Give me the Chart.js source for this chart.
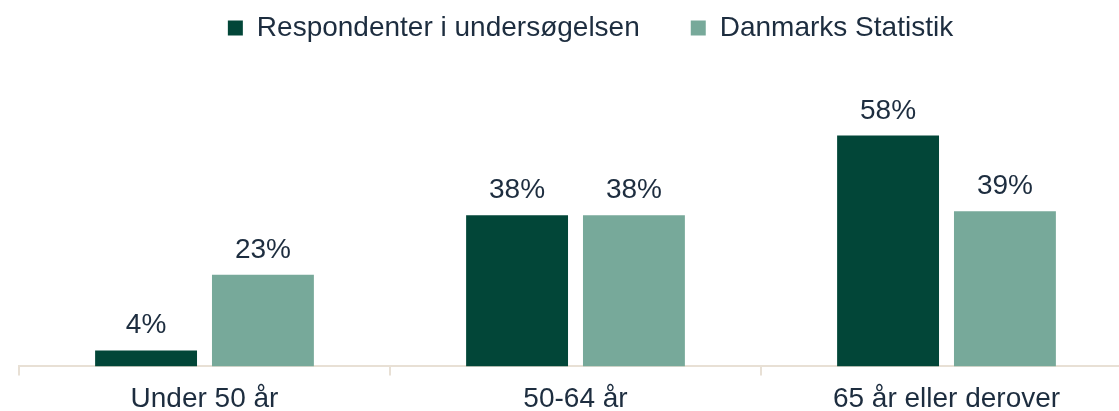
<!DOCTYPE html>
<html>
<head>
<meta charset="utf-8">
<script src="https://cdn.jsdelivr.net/npm/chart.js@4"></script>
<style>
  html, body { margin: 0; padding: 0; background: #fff; }
  #wrap { position: relative; width: 1119px; height: 411px; overflow: hidden; }
  #chart { position: absolute; left: 0; top: -37px; }
</style>
</head>
<body>
<div id="wrap">
  <canvas id="chart" width="1182" height="460"></canvas>
</div>
<script>
// 데이터
const categories = ['Under 50 år', '50-64 år', '65 år eller derover'];
const respondenter = [4, 38, 58];
const danmarksStatistik = [23, 38, 39];
const seriesLabels = ['Respondenter i undersøgelsen', 'Danmarks Statistik'];

const textColor = '#1d2d3f';
const axisColor = '#e8e0d5';
const fontFamily = '"Liberation Sans", Arial, sans-serif';

// 막대 위에 값 표시
const valueLabels = {
  id: 'valueLabels',
  afterDatasetsDraw(chart) {
    const ctx = chart.ctx;
    ctx.save();
    ctx.font = '28px ' + fontFamily;
    ctx.fillStyle = textColor;
    ctx.textAlign = 'center';
    ctx.textBaseline = 'alphabetic';
    chart.data.datasets.forEach((ds, i) => {
      chart.getDatasetMeta(i).data.forEach((bar, j) => {
        ctx.fillText(ds.data[j] + '%', bar.x, bar.y - 17);
      });
    });
    ctx.restore();
  }
};

// 범례를 오른쪽으로 조금 이동
const legendShift = {
  id: 'legendShift',
  afterLayout(chart) {
    if (chart.legend) {
      chart.legend.left += 15;
      chart.legend.right += 15;
    }
  }
};

new Chart(document.getElementById('chart'), {
  type: 'bar',
  data: {
    labels: categories,
    datasets: [
      {
        label: seriesLabels[0],
        data: respondenter,
        backgroundColor: '#024638',
        categoryPercentage: 0.63,
        barPercentage: 0.872
      },
      {
        label: seriesLabels[1],
        data: danmarksStatistik,
        backgroundColor: '#77a99a',
        categoryPercentage: 0.63,
        barPercentage: 0.872
      }
    ]
  },
  options: {
    responsive: false,
    animation: false,
    devicePixelRatio: 1,
    layout: {
      padding: { left: 19, right: 50, top: 0, bottom: 0 }
    },
    plugins: {
      legend: {
        display: true,
        position: 'top',
        labels: {
          boxWidth: 15,
          boxHeight: 15,
          padding: 51,
          color: textColor,
          font: { family: fontFamily, size: 28 }
        }
      },
      tooltip: { enabled: false }
    },
    scales: {
      x: {
        offset: true,
        grid: {
          offset: true,
          drawOnChartArea: false,
          drawTicks: true,
          tickLength: 9,
          color: axisColor,
          lineWidth: 2
        },
        border: { display: true, color: axisColor, width: 2 },
        ticks: {
          color: textColor,
          padding: 7,
          font: { family: fontFamily, size: 28 }
        }
      },
      y: {
        display: false,
        min: 0,
        max: 79
      }
    }
  },
  plugins: [valueLabels, legendShift]
});
</script>
</body>
</html>
